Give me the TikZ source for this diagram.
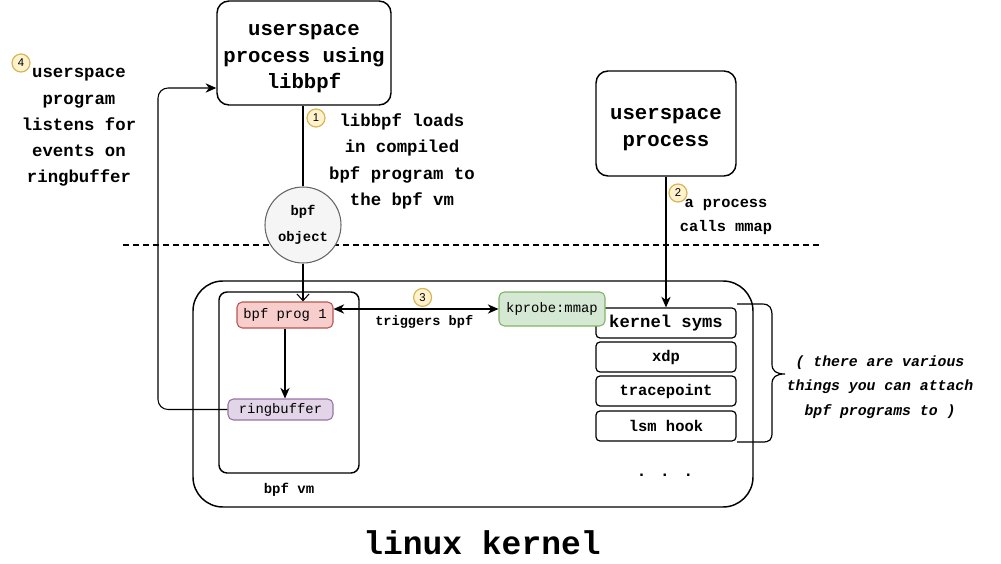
\documentclass[tikz,border=0pt]{standalone}
\usepackage{fontspec}
\setmainfont{Liberation Mono}
\setmonofont{Liberation Mono}
\newfontfamily\numfont{Liberation Sans}
\usepackage{tikz}
\usetikzlibrary{arrows.meta,positioning,calc}
\definecolor{objfill}{HTML}{F5F5F5}
\definecolor{objline}{HTML}{666666}
\definecolor{progfill}{HTML}{F8CECC}
\definecolor{progline}{HTML}{B85450}
\definecolor{ringfill}{HTML}{E1D5E7}
\definecolor{ringline}{HTML}{9673A6}
\definecolor{probefill}{HTML}{D5E8D4}
\definecolor{probeline}{HTML}{82B366}
\definecolor{numfill}{HTML}{FFF2CC}
\definecolor{numline}{HTML}{D6B656}
\newcommand{\lowstrut}{\rule{0pt}{17pt}}
\tikzset{
  proc/.style={draw,line width=1.1pt,rounded corners=9pt,align=center,inner sep=0pt,
               font=\fontsize{15.5}{20}\selectfont\bfseries},
  hook/.style={draw,line width=0.9pt,rounded corners=3pt,inner sep=0pt,
               minimum width=105pt,minimum height=22.5pt,
               font=\fontsize{11.6}{14}\selectfont\bfseries},
  tag/.style={draw,line width=0.8pt,rounded corners=4pt,inner sep=0pt,
              font=\fontsize{10.4}{12}\selectfont},
  note/.style={align=center,inner sep=0pt,font=\fontsize{13}{19.7}\selectfont\bfseries},
  num/.style={circle,draw=numline,fill=numfill,line width=0.9pt,minimum size=13.5pt,
              inner sep=0pt,font=\numfont\fontsize{8.5}{8.5}\selectfont},
  ln/.style={line width=0.8pt},
  fl/.style={ln,-{Stealth[length=8pt,width=7pt,inset=2.5pt]}},
}

\begin{document}
\begin{tikzpicture}[x=0.75pt,y=-0.75pt]
\useasboundingbox (0,0) rectangle (1001,564);
\node[proc, minimum width=130.5pt, minimum height=78pt] (lib) at (304,53)
  {\lowstrut userspace\\process using\\libbpf};
\node[proc, minimum width=105pt, minimum height=78.75pt] (proc) at (666,123.5)
  {\lowstrut userspace\\process};
\coordinate (dl) at (123,245);
\coordinate (dr) at (823,245);
\draw[ln, dash pattern=on 4.5pt off 3pt] (dl) -- (dr);
\node[circle, draw=objline, fill=objfill, line width=0.8pt, minimum size=57pt, inner sep=0pt,
      align=center, font=\fontsize{10.4}{19.5}\selectfont\bfseries] (obj) at (303,225) {bpf\\object};
\node[draw, line width=1.1pt, rounded corners=22.5pt, minimum width=420pt,
      minimum height=169.5pt] (kern) at (473,394) {};
\node[draw, line width=1.1pt, rounded corners=6pt, minimum width=105pt,
      minimum height=135.75pt] (vm) at (289,382.5) {};
\node[font=\fontsize{10.5}{12}\selectfont\bfseries] (vmlbl) at (289,490) {bpf vm};
\node[tag, fill=progfill, draw=progline, minimum width=72pt, minimum height=19.5pt]
  (prog) at (285,315) {bpf prog 1};
\node[tag, fill=ringfill, draw=ringline, minimum width=78.75pt, minimum height=15.75pt]
  (ring) at (280.5,409.5) {ringbuffer};
\node[hook, font=\fontsize{12.9}{14}\selectfont\bfseries] (syms) at (666,323) {kernel syms};
\node[hook] (xdp) at (666,357) {xdp};
\node[hook] (tp) at (666,391) {tracepoint};
\node[hook] (lsm) at (666,426) {lsm hook};
\node[tag, fill=probefill, draw=probeline, minimum width=79.5pt, minimum height=25.5pt]
  (kp) at (552,309) {kprobe:mmap};
\node[font=\fontsize{12.5}{14}\selectfont\bfseries] (dots) at (665,475) {. . .};
\draw[line width=0.9pt] (737,304) -- (762,304) .. controls (770,304) and (772,308) .. (772,316)
  -- (772,364) .. controls (772,371) and (776,374) .. (785,374)
  .. controls (776,374) and (772,377) .. (772,384) -- (772,432)
  .. controls (772,440) and (770,442) .. (762,442) -- (737,442);
\node[align=center, font=\fontsize{11.1}{18.4}\selectfont\bfseries\itshape] (various) at (880,387)
  {( there are various\\things you can attach\\bpf programs to )};
\node[font=\fontsize{24.7}{28}\selectfont\bfseries] (lk) at (482,543) {linux kernel};
\node[note] (n4) at (79,127.5) {userspace\\program\\listens for\\events on\\ringbuffer};
\node[num] (b4) at (21,63) {4};
\node[note] (n1) at (402,161.5) {libbpf loads\\in compiled\\bpf program to\\the bpf vm};
\node[num] (b1) at (316,118) {1};
\node[note, font=\fontsize{11.5}{18}\selectfont\bfseries] (n2) at (726,217) {a process\\calls mmap};
\node[num] (b2) at (678,193) {2};
\coordinate (back) at (158,245);
\draw[ln] (lib.south -| obj.north) -- (obj.north);
\draw[ln, -{Straight Barb[length=5pt,width=9pt]}] (obj.south) -- (obj.south |- prog.north);
\draw[fl] (prog.south) -- (prog.south |- ring.north);
\draw[fl, rounded corners=7.5pt] (ring.west) -- (ring.west -| back) |- ([yshift=-26.25pt]lib.west);
\draw[fl, {Stealth[length=8pt,width=7pt,inset=2.5pt]}-{Stealth[length=8pt,width=7pt,inset=2.5pt]}]
  (kp.west -| prog.east) -- node[pos=0.54, num, above=1.5pt] (b3) {3}
  node[pos=0.55, below=1pt, font=\fontsize{10.2}{12}\selectfont\bfseries] (trig) {triggers bpf} (kp.west);
\draw[fl] (proc.south) -- (syms.north);
\end{tikzpicture}
\end{document}
